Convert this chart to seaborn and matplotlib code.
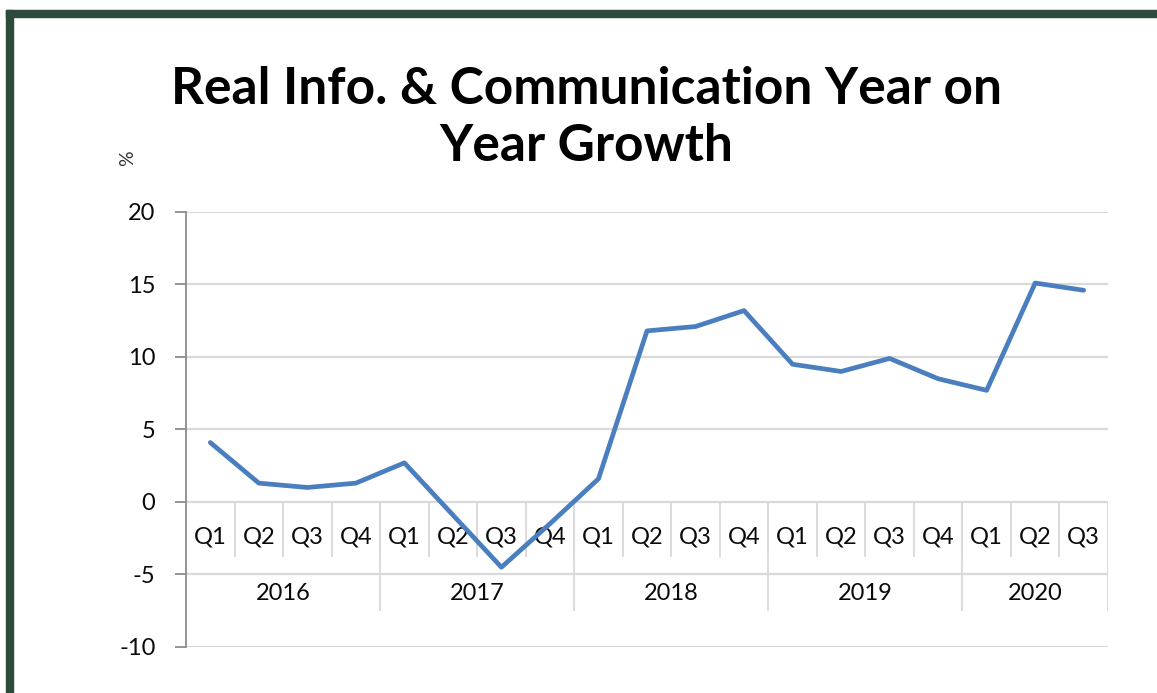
import matplotlib.pyplot as plt
import seaborn as sns
import pandas as pd
from matplotlib.patches import Rectangle

years = ["2016", "2017", "2018", "2019", "2020"]
quarters = ["Q1", "Q2", "Q3", "Q4"] * 4 + ["Q1", "Q2", "Q3"]
growth = [4.1, 1.3, 1.0, 1.3, 2.7, -0.9, -4.5, -1.5, 1.6, 11.8, 12.1, 13.2,
          9.5, 9.0, 9.9, 8.5, 7.7, 15.1, 14.6]
year_of = [y for y in years for _ in range(4)][:len(growth)]

df = pd.DataFrame({"idx": range(len(growth)), "quarter": quarters,
                   "year": year_of, "growth": growth})

sns.set_style("white")
plt.rcParams["font.family"] = ["Lato", "DejaVu Sans"]

fig = plt.figure(figsize=(11.57, 6.93), dpi=100)
ax = fig.add_axes([0.1608, 0.0664, 0.9576 - 0.1608, 0.6941 - 0.0664])

# dark frame on top and left
border = "#2E4A3A"
fig.patches.append(Rectangle((6 / 1157, 0), 7 / 1157, 1 - 10 / 693,
                             transform=fig.transFigure, color=border, zorder=0))
fig.patches.append(Rectangle((6 / 1157, 1 - 17 / 693), 1, 7 / 693,
                             transform=fig.transFigure, color=border, zorder=0))

grid_c = "#D9D9D9"
for v in range(-10, 21, 5):
    ax.axhline(v, color=grid_c, lw=1.6, zorder=1)

sns.lineplot(data=df, x="idx", y="growth", ax=ax, color="#4A7EBF",
             linewidth=3.4, zorder=3, legend=False)

lab = dict(fontsize=17, color="#0A0A0A")
ax.set_xlim(-0.5, len(growth) - 0.5)
ax.set_ylim(-10, 20)
ax.set_yticks(range(-10, 21, 5))
ax.set_yticklabels([str(v) for v in range(-10, 21, 5)], **lab)
ax.set_xticks([])
ax.set_xlabel("")
ax.set_ylabel("")
for s in ["top", "right", "bottom"]:
    ax.spines[s].set_visible(False)
ax.spines["left"].set_color("#8C8C8C")
ax.spines["left"].set_linewidth(1.3)
ax.tick_params(axis="y", left=True, length=8, width=1.3, color="#8C8C8C", pad=14)

# category table below the zero line
n = len(growth)
ax.vlines([i + 0.5 for i in range(n - 1)], -3.8, 0, color=grid_c, lw=1.3, zorder=1)
bounds = [i - 0.5 for i in range(0, n, 4)] + [n - 0.5]
ax.vlines(bounds[1:], -7.5, 0, color=grid_c, lw=1.3, zorder=1)
for i, q in enumerate(quarters):
    ax.text(i, -2.4, q, ha="center", va="center", zorder=2, **lab)
for k, y in enumerate(years):
    lo = bounds[k]
    hi = bounds[k + 1]
    ax.text((lo + hi) / 2, -6.3, y, ha="center", va="center", zorder=2, **lab)

fig.text(0.507, 1 - 118 / 693, "Real Info. & Communication Year on\nYear Growth",
         ha="center", va="center", fontsize=37, fontweight="bold",
         linespacing=1.25, color="#000000")
fig.text(128 / 1157, 1 - 158 / 693, "%", rotation=90, ha="center", va="center",
         fontsize=14, color="#333333")

fig.savefig("out.png", dpi=100)
